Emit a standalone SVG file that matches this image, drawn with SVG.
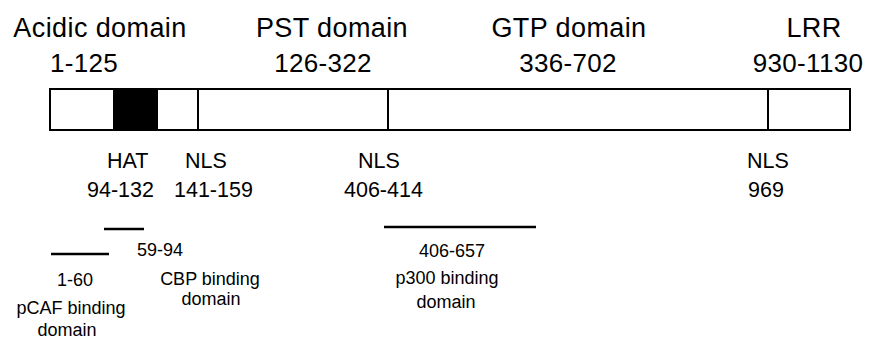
<svg xmlns="http://www.w3.org/2000/svg" width="874" height="339" viewBox="0 0 874 339">
  <style>
    text { font-family: "Liberation Sans", Arial, sans-serif; fill: #000; }
    .dom { font-size: 27px; letter-spacing: 0.4px; text-anchor: middle; }
    .rng { font-size: 26px; letter-spacing: 0.3px; text-anchor: middle; }
    .site { font-size: 21.5px; }
    .bind { font-size: 18px; text-anchor: middle; }
    .frame { fill: #fff; stroke: #000; stroke-width: 2; }
    .div { stroke: #000; stroke-width: 2; }
    .seg { stroke: #000; stroke-width: 2.5; }
  </style>
  <rect width="874" height="339" fill="#fff"/>

  <!-- domain headings above the protein bar -->
  <g id="acidic-label">
    <text class="dom" x="100" y="37">Acidic domain</text>
    <text class="rng" x="84" y="72">1-125</text>
  </g>
  <g id="pst-label">
    <text class="dom" x="332" y="37">PST domain</text>
    <text class="rng" x="323" y="72">126-322</text>
  </g>
  <g id="gtp-label">
    <text class="dom" x="569" y="37">GTP domain</text>
    <text class="rng" x="568" y="72">336-702</text>
  </g>
  <g id="lrr-label">
    <text class="dom" x="814" y="37">LRR</text>
    <text class="rng" x="808" y="72">930-1130</text>
  </g>

  <!-- protein bar -->
  <g id="protein-bar">
    <rect class="frame" x="50" y="89" width="800" height="41"/>
    <rect x="113" y="89" width="45" height="41" fill="#000"/>
    <line class="div" x1="198" y1="89" x2="198" y2="130"/>
    <line class="div" x1="388" y1="89" x2="388" y2="130"/>
    <line class="div" x1="768" y1="89" x2="768" y2="130"/>
  </g>

  <!-- site labels below the bar -->
  <g id="hat-site">
    <text class="site" x="107" y="168">HAT</text>
    <text class="site" x="87" y="197">94-132</text>
  </g>
  <g id="nls-141">
    <text class="site" x="185" y="168">NLS</text>
    <text class="site" x="174" y="197">141-159</text>
  </g>
  <g id="nls-406">
    <text class="site" x="358" y="168">NLS</text>
    <text class="site" x="344" y="197">406-414</text>
  </g>
  <g id="nls-969">
    <text class="site" x="747" y="168">NLS</text>
    <text class="site" x="748" y="197">969</text>
  </g>

  <!-- binding-region spans -->
  <g id="spans">
    <line class="seg" x1="104" y1="229" x2="144" y2="229"/>
    <line class="seg" x1="51" y1="254" x2="109" y2="254"/>
    <line class="seg" x1="384" y1="227" x2="536" y2="227"/>
  </g>

  <g id="cbp-binding">
    <text class="bind" x="160" y="256">59-94</text>
    <text class="bind" x="210" y="285">CBP binding</text>
    <text class="bind" x="211" y="305">domain</text>
  </g>
  <g id="pcaf-binding">
    <text class="bind" x="75" y="286">1-60</text>
    <text class="bind" x="71" y="314">pCAF binding</text>
    <text class="bind" x="67" y="336">domain</text>
  </g>
  <g id="p300-binding">
    <text class="bind" x="452" y="257">406-657</text>
    <text class="bind" x="447" y="284">p300 binding</text>
    <text class="bind" x="446" y="308">domain</text>
  </g>
</svg>
